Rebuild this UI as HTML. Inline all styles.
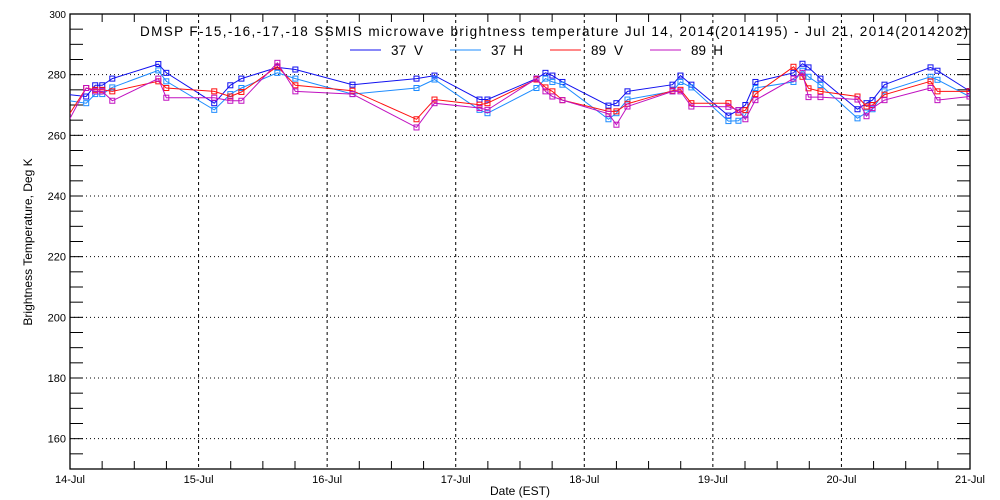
<!DOCTYPE html>
<html><head><meta charset="utf-8"><style>
html,body{margin:0;padding:0;background:#fff;}
svg{display:block;font-family:"Liberation Sans",sans-serif;}
</style></head><body>
<svg id="chart" width="1000" height="500" viewBox="0 0 1000 500" xmlns="http://www.w3.org/2000/svg">
<rect x="0" y="0" width="1000" height="500" fill="#fff"/>
<g id="grid"></g>
<g id="axes"></g>
<g id="series" clip-path="url(#clip)"></g>
<defs><clipPath id="clip"><rect x="70" y="14" width="900" height="455"/></clipPath></defs>
<text x="140" y="36" font-size="13.5" textLength="828" lengthAdjust="spacing">DMSP F-15,-16,-17,-18 SSMIS microwave brightness temperature Jul 14, 2014(2014195) - Jul 21, 2014(2014202)</text>
<text x="520" y="495" font-size="12" text-anchor="middle">Date (EST)</text>
<text transform="translate(32,242) rotate(-90)" font-size="12" text-anchor="middle">Brightness Temperature, Deg K</text>
<g id="legend"></g>
</svg>
<script>
// x positions in fractional days since 14-Jul 00:00
const times = [-0.006,0.126,0.196,0.251,0.329,0.687,0.749,1.122,1.247,1.333,1.613,1.753,2.197,2.695,2.835,3.185,3.247,3.628,3.698,3.752,3.830,4.188,4.250,4.336,4.686,4.748,4.833,5.121,5.199,5.253,5.331,5.627,5.697,5.744,5.837,6.125,6.195,6.242,6.335,6.693,6.747,6.996];
const s37V = [273.4,272.8,276.5,276.5,278.7,283.5,280.6,270.6,276.5,278.7,282.4,281.7,276.7,278.7,279.7,271.8,271.8,278.7,280.6,279.7,277.6,269.8,270.6,274.5,276.7,279.7,276.7,266.5,268.3,270.0,277.6,280.6,283.6,282.4,278.7,268.6,270.6,271.6,276.7,282.4,281.3,274.6];
const s37H = [271.4,270.6,273.6,273.6,275.8,281.4,277.8,268.4,273.6,275.6,280.6,278.7,273.6,275.6,278.4,268.4,267.3,275.6,278.7,277.6,276.7,265.3,267.3,271.8,274.5,277.6,275.8,264.7,264.8,266.7,275.6,277.6,281.3,279.3,276.6,265.6,267.5,268.6,274.5,279.3,278.3,272.8];
const s89V = [266.9,275.6,275.0,275.0,274.5,277.8,275.6,274.5,272.8,274.3,282.7,276.5,274.7,265.3,271.8,270.1,270.6,278.4,275.8,274.5,271.6,267.9,267.9,270.4,274.7,275.0,270.6,270.6,267.5,268.3,273.6,282.6,279.3,275.5,274.5,272.8,269.5,270.0,273.4,277.8,274.5,274.5];
const s89H = [265.1,275.6,274.5,274.5,271.4,278.7,272.4,272.4,271.4,271.4,283.9,274.5,273.6,262.6,270.6,269.0,268.4,278.7,274.5,272.8,271.6,267.1,263.5,269.5,274.5,274.5,269.5,269.4,268.3,265.3,271.6,278.7,280.6,272.6,272.6,271.8,266.3,269.0,271.6,275.6,271.6,272.8];
const seriesNames = ["37 V","37 H","89 V","89 H"];
const seriesColors = ["#1010f0","#1e8cff","#ff1010","#c010c0"];
const yTicks = [160,180,200,220,240,260,280,300];
const xTickLabels = ["14-Jul","15-Jul","16-Jul","17-Jul","18-Jul","19-Jul","20-Jul","21-Jul"];

const NS="http://www.w3.org/2000/svg";
const X0=70,X1=970,Y0=469,Y1=14,YMIN=150,YMAX=300,DAYS=7;
const xs=d=>X0+(X1-X0)*d/DAYS;
const ys=v=>Y0-(Y0-Y1)*(v-YMIN)/(YMAX-YMIN);
function mk(tag,attrs,parent){const e=document.createElementNS(NS,tag);for(const k in attrs)e.setAttribute(k,attrs[k]);parent.appendChild(e);return e;}
const grid=document.getElementById('grid'),axes=document.getElementById('axes'),ser=document.getElementById('series'),leg=document.getElementById('legend');

yTicks.forEach(v=>{
  const y=ys(v);
  if(v<YMAX){const g=mk('line',{x1:X0,x2:X1,y1:y,y2:y,stroke:'#000','stroke-width':1,'stroke-dasharray':'1,3'},grid);
  
  }
  const t=mk('text',{x:X0-4,y:y+4,'font-size':v==300?10:11,'text-anchor':'end'},axes);
  t.textContent=v;
  
  
});
for(let v=YMIN+5;v<YMAX;v+=5){
  const y=ys(v);
  const a=mk('line',{x1:X0,x2:X0+13,y1:y,y2:y,stroke:'#000','stroke-width':1},axes);
  
  
  const b=mk('line',{x1:X1-13,x2:X1,y1:y,y2:y,stroke:'#000','stroke-width':1},axes);
  
  
}
xTickLabels.forEach((lab,i)=>{
  const x=xs(i);
  if(i>0&&i<DAYS){const g=mk('line',{x1:x,x2:x,y1:Y1,y2:Y0,stroke:'#000','stroke-width':1,'stroke-dasharray':'3,3'},grid);
  
  }
  const t=mk('text',{x:x,y:Y0+14,'font-size':11,'text-anchor':'middle'},axes);
  t.textContent=lab;
  
  
});
for(let q=1;q<DAYS*4;q++){
  if(q%4===0)continue;
  const x=xs(q/4);
  const a=mk('line',{x1:x,x2:x,y1:Y0,y2:Y0-8,stroke:'#000','stroke-width':1},axes);
  
  
  const b=mk('line',{x1:x,x2:x,y1:Y1,y2:Y1+8,stroke:'#000','stroke-width':1},axes);
  
  
}
const frame=mk('rect',{x:X0,y:Y1,width:X1-X0,height:Y0-Y1,fill:'none',stroke:'#000','stroke-width':1.3},axes);



[s37V,s37H,s89V,s89H].forEach((vals,si)=>{
  const c=seriesColors[si];
  const pts=times.map((d,i)=>xs(d).toFixed(1)+','+ys(vals[i]).toFixed(1)).join(' ');
  const pl=mk('polyline',{points:pts,fill:'none',stroke:c,'stroke-width':1},ser);
  
  
  times.forEach((d,i)=>{
    if(i===0)return;
    const m=mk('rect',{x:xs(d)-2.5,y:ys(vals[i])-2.5,width:5,height:5,fill:'none',stroke:c,'stroke-width':1},ser);
    
    
  });
});

const legX=[350,450,550,650];
seriesNames.forEach((n,i)=>{
  const l=mk('line',{x1:legX[i],x2:legX[i]+31,y1:50,y2:50,stroke:seriesColors[i],'stroke-width':1},leg);
  
  
  const t=mk('text',{x:legX[i]+41,y:55,'font-size':13.5,textLength:32,lengthAdjust:'spacing'},leg);
  t.textContent=n.replace(' ','\u00a0\u00a0');
  
  
});
</script>
</body></html>
